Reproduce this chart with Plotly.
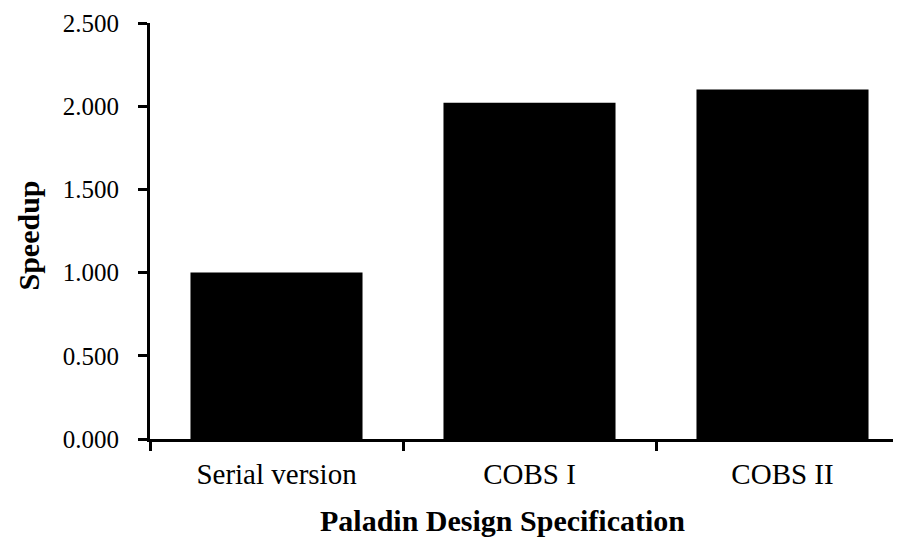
import plotly.graph_objects as go

categories = ["Serial version", "COBS I", "COBS II"]
speedup = [1.00, 2.02, 2.10]
y_ticks = [0.0, 0.5, 1.0, 1.5, 2.0, 2.5]
y_tick_labels = ["0.000", "0.500", "1.000", "1.500", "2.000", "2.500"]

font_family = "Liberation Serif"

# The page body has an 8px margin, so the figure is sized to fill the rest.
fig = go.Figure(
    go.Bar(
        x=categories,
        y=speedup,
        marker=dict(color="black", line=dict(width=0)),
        showlegend=False,
    )
)

fig.update_layout(
    width=893,
    height=529,
    margin=dict(l=142, r=0, t=15, b=98),
    paper_bgcolor="white",
    plot_bgcolor="white",
    bargap=0.32,
    font=dict(family=font_family, color="black"),
    annotations=[
        dict(
            text="<b>Paladin Design Specification</b>",
            xref="paper", yref="paper",
            x=0.469, y=-0.195,
            xanchor="center", yanchor="middle",
            showarrow=False,
            font=dict(family=font_family, size=30, color="black"),
        ),
        dict(
            text="<b>Speedup</b>",
            xref="paper", yref="paper",
            x=-0.162, y=0.49,
            xanchor="center", yanchor="middle",
            textangle=-90,
            showarrow=False,
            font=dict(family=font_family, size=30, color="black"),
        ),
    ],
)

fig.update_xaxes(
    range=[-0.5, -0.5 + 751 / 253],
    showline=True, linecolor="black", linewidth=3,
    ticks="outside", ticklen=9, tickwidth=3, tickcolor="black",
    tickson="boundaries",
    showgrid=False, zeroline=False,
    tickfont=dict(family=font_family, size=29, color="black"),
    ticklabelstandoff=7,
)

fig.update_yaxes(
    range=[0, 2.5],
    tickvals=y_ticks, ticktext=y_tick_labels,
    showline=True, linecolor="black", linewidth=3,
    ticks="outside", ticklen=9, tickwidth=3, tickcolor="black",
    showgrid=False, zeroline=False,
    tickfont=dict(family=font_family, size=25, color="black"),
    ticklabelstandoff=14,
)

fig.write_html("out.html")
